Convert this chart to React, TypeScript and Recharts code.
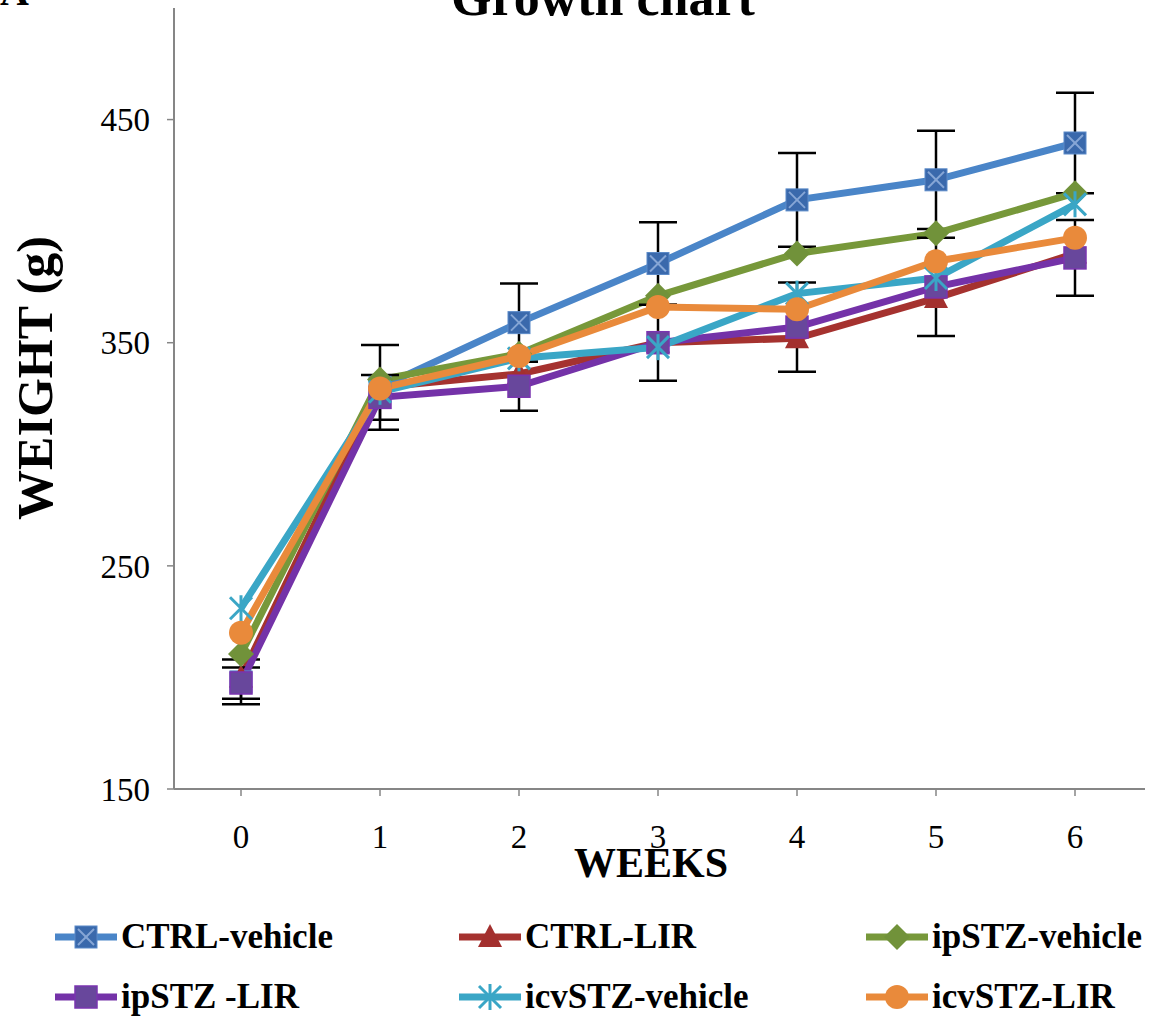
import { LineChart, Line, XAxis, YAxis, ErrorBar, Label } from 'recharts'

const weeks = ['0', '1', '2', '3', '4', '5', '6']
const ctrlVehicle = [198, 330, 359, 385.5, 414, 423, 439.5]
const ctrlVehicleErr = [10, 19, 17.5, 18.5, 21, 22, 22.5]
const ctrlLir = [200, 330, 336, 350, 352, 370, 390]
const ipStzVehicle = [210.5, 333.5, 345, 371, 390, 399, 417]
const ipStzLir = [197.5, 325.5, 330.5, 350, 357, 375, 388]
const ipStzLirErr = [7, 10, 11, 17, 20, 22, 17]
const icvStzVehicle = [231, 328, 343, 348, 372, 379, 412]
const icvStzLir = [220, 329.5, 344, 366, 365, 386.5, 397]
const yTicks = [150, 250, 350, 450]

const data = weeks.map((w, i) => ({
  week: w,
  ctrlVehicle: ctrlVehicle[i],
  ctrlVehicleErr: ctrlVehicleErr[i],
  ctrlLir: ctrlLir[i],
  ipStzVehicle: ipStzVehicle[i],
  ipStzLir: ipStzLir[i],
  ipStzLirErr: ipStzLirErr[i],
  icvStzVehicle: icvStzVehicle[i],
  icvStzLir: icvStzLir[i],
}))

type Shape = 'squareX' | 'triangle' | 'diamond' | 'square' | 'star' | 'circle'

const series: { key: string; name: string; color: string; shape: Shape; err?: string }[] = [
  { key: 'ctrlVehicle', name: 'CTRL-vehicle', color: '#4A85C8', shape: 'squareX', err: 'ctrlVehicleErr' },
  { key: 'ctrlLir', name: 'CTRL-LIR', color: '#A5322F', shape: 'triangle' },
  { key: 'ipStzVehicle', name: 'ipSTZ-vehicle', color: '#77983A', shape: 'diamond' },
  { key: 'ipStzLir', name: 'ipSTZ -LIR', color: '#7432A8', shape: 'square', err: 'ipStzLirErr' },
  { key: 'icvStzVehicle', name: 'icvSTZ-vehicle', color: '#3AA6C6', shape: 'star' },
  { key: 'icvStzLir', name: 'icvSTZ-LIR', color: '#E98A3B', shape: 'circle' },
]

function Marker({ shape, cx, cy }: { shape: Shape; cx: number; cy: number }) {
  const s = 11
  switch (shape) {
    case 'squareX':
      return (
        <g>
          <rect x={cx - s} y={cy - s} width={2 * s} height={2 * s} fill="#3A69AC" stroke="#5B8AC8" strokeWidth={1} />
          <line x1={cx - s + 3} y1={cy - s + 3} x2={cx + s - 3} y2={cy + s - 3} stroke="#86A6D6" strokeWidth={2} />
          <line x1={cx + s - 3} y1={cy - s + 3} x2={cx - s + 3} y2={cy + s - 3} stroke="#86A6D6" strokeWidth={2} />
        </g>
      )
    case 'triangle':
      return <polygon points={`${cx},${cy - 13} ${cx + 12},${cy + 10} ${cx - 12},${cy + 10}`} fill="#A3302E" />
    case 'diamond':
      return <polygon points={`${cx},${cy - 13} ${cx + 13},${cy} ${cx},${cy + 13} ${cx - 13},${cy}`} fill="#71923A" />
    case 'square':
      return <rect x={cx - s} y={cy - s} width={2 * s} height={2 * s} fill="#68479C" stroke="#7A34B0" strokeWidth={1.5} />
    case 'star':
      return (
        <g stroke="#3AA6C6" strokeWidth={3}>
          <line x1={cx} y1={cy - 13} x2={cx} y2={cy + 13} />
          <line x1={cx - 11} y1={cy - 11} x2={cx + 11} y2={cy + 11} />
          <line x1={cx + 11} y1={cy - 11} x2={cx - 11} y2={cy + 11} />
        </g>
      )
    default:
      return <circle cx={cx} cy={cy} r={12} fill="#E98A3B" />
  }
}

const dotFor = (key: string, shape: Shape) => (props: any) => {
  const { cx, cy, index } = props
  if (cx == null || cy == null) return <g key={`${key}-${index}`} />
  return (
    <g key={`${key}-${index}`}>
      <Marker shape={shape} cx={cx} cy={cy} />
    </g>
  )
}

const serif = '"Liberation Serif", "Times New Roman", serif'
const legendCols = [55, 459, 866]
const legendRows = [937, 997]

export default function App() {
  return (
    <div style={{ position: 'absolute', left: 0, top: 0, width: 1156, height: 1018, background: '#fff', fontFamily: serif, overflow: 'hidden' }}>
      <LineChart width={1156} height={900} data={data} margin={{ top: 8, right: 11, left: 0, bottom: 0 }}>
        <XAxis
          dataKey="week"
          height={111}
          padding={{ left: 67, right: 70 }}
          tickSize={7}
          tickMargin={29}
          axisLine={{ stroke: '#868686', strokeWidth: 2 }}
          tickLine={{ stroke: '#868686', strokeWidth: 1.5 }}
          tick={{ fontSize: 33, fill: '#000', fontFamily: serif }}
        >
          <Label
            content={() => (
              <text x={651} y={877} textAnchor="middle" fontFamily={serif} fontWeight="bold" fontSize={42} fill="#000">
                WEEKS
              </text>
            )}
          />
        </XAxis>
        <YAxis
          width={174}
          domain={[150, 500]}
          ticks={yTicks}
          allowDataOverflow
          tickSize={7}
          tickMargin={17}
          axisLine={{ stroke: '#868686', strokeWidth: 2 }}
          tickLine={{ stroke: '#868686', strokeWidth: 1.5 }}
          tick={{ fontSize: 33, fill: '#000', fontFamily: serif }}
        >
          <Label
            content={() => (
              <g>
                <text x={52} y={378} transform="rotate(-90, 52, 378)" textAnchor="middle" fontFamily={serif} fontWeight="bold" fontSize={50} fill="#000">
                  WEIGHT (g)
                </text>
                <text x={603} y={15} textAnchor="middle" fontFamily={serif} fontWeight="bold" fontSize={52} fill="#000">
                  Growth chart
                </text>
                <text x={0} y={5} fontFamily={serif} fontWeight="bold" fontSize={40} fill="#000">
                  A
                </text>
              </g>
            )}
          />
        </YAxis>
        {series.map((s) => (
          <Line
            key={s.key}
            type="linear"
            dataKey={s.key}
            name={s.name}
            stroke={s.color}
            strokeWidth={7}
            dot={dotFor(s.key, s.shape)}
            activeDot={false}
            isAnimationActive={false}
          >
            {s.err && <ErrorBar dataKey={s.err} direction="y" width={19} strokeWidth={2.5} stroke="#000" />}
          </Line>
        ))}
      </LineChart>
      {series.map((s, i) => {
        const left = legendCols[i % 3]
        const top = legendRows[Math.floor(i / 3)] - 20
        return (
          <div key={s.key} style={{ position: 'absolute', left, top, height: 40, display: 'flex', alignItems: 'center' }}>
            <svg width={62} height={30}>
              <line x1={0} y1={15} x2={62} y2={15} stroke={s.color} strokeWidth={7} />
              <Marker shape={s.shape} cx={31} cy={15} />
            </svg>
            <span style={{ marginLeft: 4, fontSize: 35, fontWeight: 'bold', color: '#000', whiteSpace: 'nowrap' }}>{s.name}</span>
          </div>
        )
      })}
    </div>
  )
}
